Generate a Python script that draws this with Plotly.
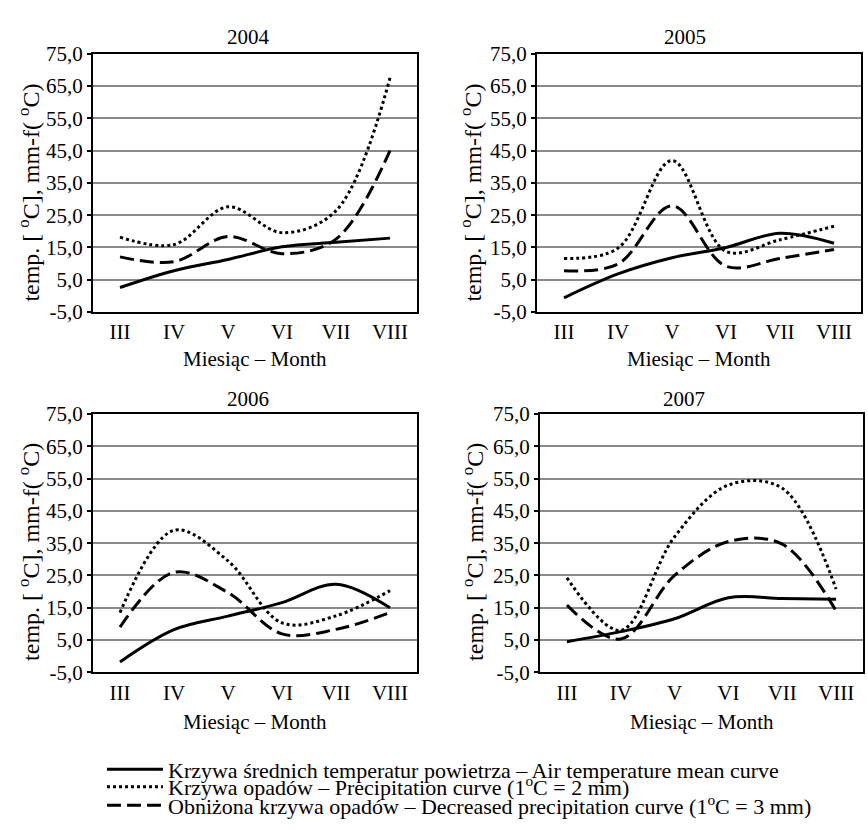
import plotly.graph_objects as go

# Months on the category axis
months = ["III", "IV", "V", "VI", "VII", "VIII"]

# Mean air temperature [°C]
temp_2004 = [2.6, 7.8, 11.3, 15.2, 16.6, 17.9]
temp_2005 = [-0.6, 6.8, 11.8, 15.0, 19.4, 16.3]
temp_2006 = [-1.8, 8.2, 12.4, 16.6, 22.3, 15.0]
temp_2007 = [4.5, 7.6, 11.6, 18.1, 17.9, 17.6]

# Precipitation curve (1 °C = 2 mm)
prec_2004 = [18.2, 15.9, 27.6, 19.6, 26.4, 67.5]
prec_2005 = [11.6, 14.8, 41.9, 13.8, 17.4, 21.6]
prec_2006 = [13.5, 39.0, 29.5, 10.3, 12.5, 20.3]
prec_2007 = [24.3, 8.0, 37.0, 53.0, 52.0, 20.8]

# Decreased precipitation curve (1 °C = 3 mm)
decr_2004 = [12.1, 10.6, 18.4, 13.1, 17.6, 45.0]
decr_2005 = [7.8, 9.9, 27.9, 9.2, 11.6, 14.4]
decr_2006 = [9.0, 26.0, 19.7, 6.9, 8.3, 13.5]
decr_2007 = [15.8, 5.3, 25.0, 35.5, 34.7, 14.0]

years = ["2004", "2005", "2006", "2007"]
temps = [temp_2004, temp_2005, temp_2006, temp_2007]
precs = [prec_2004, prec_2005, prec_2006, prec_2007]
decrs = [decr_2004, decr_2005, decr_2006, decr_2007]

y_ticks = [-5, 5, 15, 25, 35, 45, 55, 65, 75]
y_tick_text = ["-5,0", "5,0", "15,0", "25,0", "35,0", "45,0", "55,0", "65,0", "75,0"]

series_names = [
    "Krzywa średnich temperatur powietrza – Air temperature mean curve",
    "Krzywa opadów – Precipitation curve (1<sup>o</sup>C = 2 mm)",
    "Obniżona krzywa opadów – Decreased precipitation curve (1<sup>o</sup>C = 3 mm)",
]
series_dash = ["solid", "3px,3px", "14px,6px"]

W, H = 868, 830
FONT = "Liberation Serif"
FS = 21

# panel boxes in pixels: left, right, top, bottom
panels = [
    (93, 417, 43, 309),
    (537, 861, 43, 309),
    (93, 417, 414, 680),
    (540, 863, 414, 680),
]
title_pos = [(248, 26), (685, 26), (248, 399), (684, 399)]
ytitle_pos = [(29, 186), (471, 186), (29, 556), (473, 556)]
xtitle_gap = [48, 48, 51, 51]

fig = go.Figure()
x_idx = list(range(len(months)))

for i, year in enumerate(years):
    xa = "x" if i == 0 else f"x{i + 1}"
    ya = "y" if i == 0 else f"y{i + 1}"
    for k, vals in enumerate([temps[i], precs[i], decrs[i]]):
        fig.add_trace(go.Scatter(
            x=x_idx, y=vals, mode="lines",
            line=dict(color="black", width=3, dash=series_dash[k],
                      shape="spline", smoothing=1.0),
            name=series_names[k],
            showlegend=(i == 0),
            legend=["legend", "legend2", "legend3"][k],
            xaxis=xa, yaxis=ya, hoverinfo="skip",
        ))

layout = dict(
    width=W, height=H, margin=dict(l=0, r=0, t=0, b=0),
    paper_bgcolor="white", plot_bgcolor="white",
    font=dict(family=FONT, size=FS, color="black"),
    annotations=[],
)

for i, (l, r, t, b) in enumerate(panels):
    n = "" if i == 0 else str(i + 1)
    xd = [l / W, r / W]
    yd = [1 - b / H, 1 - t / H]
    layout["xaxis" + n] = dict(
        domain=xd, range=[-0.5, 5.5], anchor="y" + n,
        tickvals=x_idx, ticktext=months, ticks="",
        showline=True, linecolor="black", linewidth=2, mirror=True,
        showgrid=False, zeroline=False, ticklabelstandoff=0,
        tickfont=dict(family=FONT, size=FS),
    )
    layout["yaxis" + n] = dict(
        domain=yd, range=[-5, 75], anchor="x" + n,
        tickvals=y_ticks, ticktext=y_tick_text,
        ticks="outside", ticklen=4, tickcolor="black", tickwidth=1.5,
        showline=True, linecolor="black", linewidth=2, mirror=True,
        showgrid=True, gridcolor="#8a8a8a", gridwidth=1.6,
        zeroline=False, tickfont=dict(family=FONT, size=FS),
    )
    # category axis crossing at zero: grey line with ticks between months
    zero_pos = yd[0] + (0 - (-5)) / 80 * (yd[1] - yd[0])
    layout[f"xaxis{i + 5}"] = dict(
        overlaying="x" + n, anchor="free", position=zero_pos,
        range=[-0.5, 5.5], tickvals=[0.5, 1.5, 2.5, 3.5, 4.5],
        showticklabels=False, ticks="outside", ticklen=6,
        tickcolor="#8a8a8a", tickwidth=1.6,
        showline=True, linecolor="#8a8a8a", linewidth=1.6,
        showgrid=False, zeroline=False,
    )
    tx, ty = title_pos[i]
    layout["annotations"].append(dict(
        text=years[i], x=tx / W, y=1 - ty / H, xref="paper", yref="paper",
        showarrow=False, font=dict(family=FONT, size=FS),
        xanchor="center", yanchor="middle"))
    yx, yy = ytitle_pos[i]
    layout["annotations"].append(dict(
        text="temp. [ <sup>o</sup>C], mm-f( <sup>o</sup>C)",
        x=yx / W, y=1 - yy / H, xref="paper", yref="paper", textangle=-90,
        showarrow=False, font=dict(family=FONT, size=24),
        xanchor="center", yanchor="middle"))
    layout["annotations"].append(dict(
        text="Miesiąc – Month", x=((l + r) / 2) / W,
        y=1 - (b + xtitle_gap[i]) / H,
        xref="paper", yref="paper", showarrow=False,
        font=dict(family=FONT, size=FS),
        xanchor="center", yanchor="middle"))

legend_rows = [780, 798, 817]
for k, key in enumerate(["legend", "legend2", "legend3"]):
    layout[key] = dict(
        x=102 / W, y=1 - legend_rows[k] / H, xanchor="left", yanchor="middle",
        bgcolor="rgba(0,0,0,0)", borderwidth=0,
        font=dict(family=FONT, size=22),
        itemwidth=56, tracegroupgap=0,
    )

fig.update_layout(**layout)
fig.write_html("out.html")
